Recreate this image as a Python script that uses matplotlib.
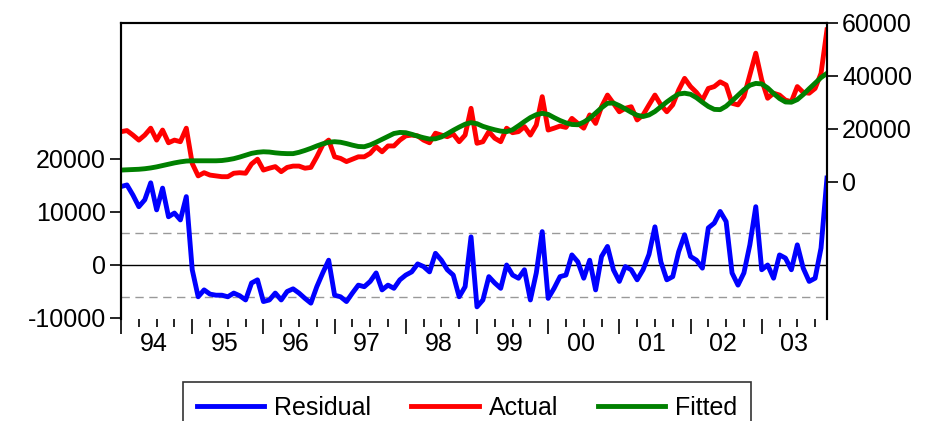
import matplotlib
matplotlib.use("Agg")
import matplotlib.pyplot as plt
import matplotlib.transforms as mtransforms
import numpy as np

plt.rcParams['font.family'] = ['Liberation Sans', 'DejaVu Sans']

# monthly data, 1994M01 - 2003M12
years = ["94", "95", "96", "97", "98", "99", "00", "01", "02", "03"]

residual = [
    14800, 15100, 13200, 11000, 12300, 15500, 10400, 14500, 9100, 9800, 8500, 12900,
    -900, -6000, -4700, -5500, -5700, -5700, -6000, -5300, -5800, -6600, -3400, -2800,
    -6900, -6600, -5300, -6600, -5000, -4500, -5300, -6300, -7200, -4100, -1500, 900,
    -5700, -6000, -6900, -5300, -3800, -4100, -3100, -1500, -4700, -3800, -4400, -2800,
    -1900, -1300, 200, -300, -1300, 2200, 900, -900, -1900, -6000, -4100, 5300,
    -7900, -6600, -2200, -3400, -4400, 0, -1900, -2500, -900, -6600, -1500, 6300,
    -6300, -4400, -2200, -1900, 1900, 600, -2500, 900, -4700, 1600, 3500, -900,
    -3100, -300, -900, -2800, -900, 2000, 7200, 600, -2800, -2200, 2500, 5700,
    1600, 900, -600, 7000, 7900, 10100, 8200, -1500, -3800, -1500, 3800, 11000,
    -900, 0, -2500, 1900, 1300, -900, 3800, -600, -3100, -2500, 3200, 16400,
]

actual = [
    19000, 19400, 17700, 15800, 17700, 20300, 15800, 19600, 14800, 15800, 15200, 20300,
    7000, 2300, 3500, 2600, 2300, 2000, 2000, 3300, 3500, 3300, 6800, 8600,
    4500, 5200, 5800, 3900, 5500, 6000, 6000, 5200, 5500, 9500, 14000, 15800,
    9500, 8900, 7700, 8600, 9500, 9500, 10800, 13300, 11400, 13600, 13600, 15800,
    17400, 17700, 17400, 15800, 14800, 18400, 17700, 17100, 18100, 15200, 17700, 27800,
    14600, 15200, 19000, 16500, 15200, 20300, 18600, 19000, 20900, 17700, 21500, 32200,
    19600, 20300, 21100, 20600, 24000, 22100, 20300, 25300, 22100, 28400, 32800, 29700,
    26500, 27800, 28400, 23400, 25300, 29100, 32800, 29100, 26500, 29100, 34700, 39100,
    36000, 33800, 30900, 35300, 36000, 37800, 36600, 29700, 29100, 32200, 40400, 48600,
    38500, 31600, 33500, 32800, 30900, 30300, 36000, 33800, 33500, 35300, 41000, 57400,
]

fitted = [
    4500, 4600, 4700, 4800, 5000, 5300, 5700, 6200, 6700, 7200, 7600, 7900,
    8000, 8000, 8000, 8000, 8000, 8100, 8400, 8800, 9400, 10100, 10800, 11200,
    11400, 11300, 11000, 10800, 10700, 10700, 11200, 11900, 12700, 13600, 14400, 15000,
    15200, 15000, 14500, 13900, 13400, 13300, 14000, 15000, 16100, 17200, 18300, 18700,
    18600, 18000, 17300, 16700, 16200, 16300, 17000, 18200, 19500, 20700, 21800, 22400,
    22000, 21000, 20300, 19700, 19200, 19000, 19700, 21200, 22800, 24300, 25400, 25900,
    25500, 24300, 23200, 22300, 21700, 21600, 22600, 24000, 26000, 28000, 29700, 29800,
    28800, 27600, 26300, 25200, 24700, 25300, 26600, 28400, 30200, 31800, 33200, 33500,
    33100, 31800, 30100, 28500, 27400, 27300, 28600, 30600, 32700, 34800, 36500, 37200,
    37000, 35500, 33400, 31500, 30200, 30100, 31100, 33000, 35200, 37300, 39400, 41000,
]

se = 6100

t = np.arange(len(residual))

fig = plt.figure(figsize=(9.34, 4.21), dpi=100)
ax = fig.add_axes([0.1296, 0.2423, 0.7558, 0.7031])
ax2 = ax.twinx()

# residual on the left scale
ax.axhline(0, color="black", lw=1.0, zorder=1)
ax.axhline(se, color="#999999", lw=1.0, ls=(0, (6, 4)), zorder=1)
ax.axhline(-se, color="#999999", lw=1.0, ls=(0, (6, 4)), zorder=1)
l_res, = ax.plot(t, residual, color="#0000ff", lw=3.5, label="Residual",
                 solid_joinstyle="round")
ax.set_ylim(-10190, 45660)
ax.set_yticks([-10000, 0, 10000, 20000])
ax.set_yticklabels(["-10000", "0", "10000", "20000"])

# actual / fitted on the right scale
l_act, = ax2.plot(t, actual, color="#ff0000", lw=3.5, label="Actual",
                  solid_joinstyle="round")
l_fit, = ax2.plot(t, fitted, color="#008000", lw=3.5, label="Fitted",
                  solid_joinstyle="round")
ax2.set_ylim(-51700, 60000)
ax2.set_yticks([0, 20000, 40000, 60000])
ax2.set_yticklabels(["0", "20000", "40000", "60000"])

ax.set_xlim(0, len(t) - 1)
ax.set_xticks(np.arange(0, len(t), 12))
ax.set_xticks(np.arange(0, len(t), 3), minor=True)
ax.set_xticklabels([])
ax.tick_params(axis="x", which="major", length=11, width=1.2, direction="out")
ax.tick_params(axis="x", which="minor", length=6, width=1.2, direction="out")
trans = mtransforms.blended_transform_factory(ax.transData, ax.transAxes)
for k, yr in enumerate(years):
    ax.text(12 * k + 5.5, -0.045, yr, transform=trans, ha="center", va="top",
            fontsize=18)

ax.tick_params(axis="y", length=8, width=1.2, labelsize=18, pad=3)
ax2.tick_params(axis="y", length=8, width=1.2, labelsize=18, pad=3)

for a in (ax, ax2):
    a.spines["bottom"].set_visible(False)
    for s in ("left", "right", "top"):
        a.spines[s].set_linewidth(1.5)

leg = fig.legend([l_res, l_act, l_fit], ["Residual", "Actual", "Fitted"],
                 loc="upper center", bbox_to_anchor=(0.5, 0.093), ncol=3,
                 fontsize=18, frameon=True, fancybox=False, edgecolor="black",
                 handlelength=2.7, handletextpad=0.4, columnspacing=1.6,
                 borderpad=0.55, borderaxespad=0.0)
leg.get_frame().set_linewidth(1.2)
for h in leg.legend_handles:
    h.set_linewidth(3.5)

fig.savefig("out.png", dpi=100)
